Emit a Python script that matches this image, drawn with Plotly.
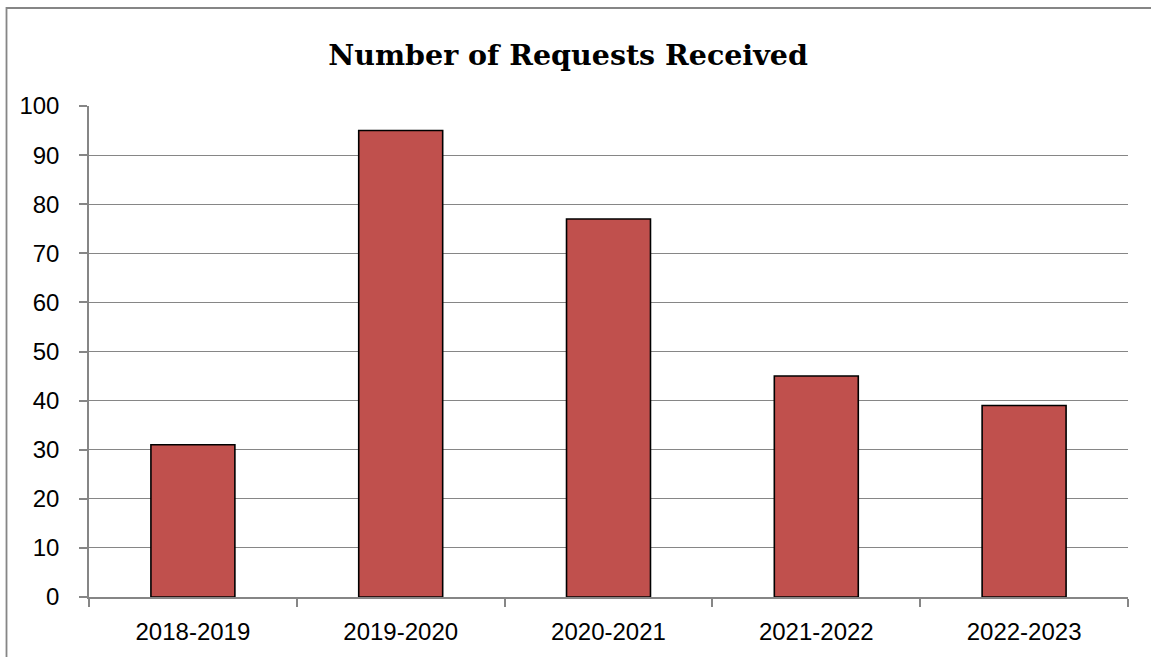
import plotly.graph_objects as go

categories = ["2018-2019", "2019-2020", "2020-2021", "2021-2022", "2022-2023"]
requests = [31, 95, 77, 45, 39]
y_ticks = list(range(0, 101, 10))

W, H = 1151, 657
L, R, T, B = 89, 23, 106, 60

fig = go.Figure(go.Bar(
    x=categories, y=requests,
    marker=dict(color="#C0504D", line=dict(color="#000000", width=1.6)),
))

fig.update_layout(
    width=W, height=H,
    margin=dict(l=L, r=R, t=T, b=B),
    paper_bgcolor="white", plot_bgcolor="white",
    bargap=0.596,
    showlegend=False,
    title=dict(text="<b>Number of Requests Received</b>",
               font=dict(family="DejaVu Serif", size=28.5, color="black"),
               x=568 / W, xref="container", xanchor="center",
               y=1 - 55 / H, yref="container", yanchor="middle"),
    font=dict(family="Liberation Sans", size=24, color="black"),
)

fig.update_xaxes(
    showgrid=False, tickson="boundaries", ticks="outside", ticklen=8,
    tickcolor="#868686", tickwidth=1.5,
    showline=True, linecolor="#868686", linewidth=1.5,
    ticklabelstandoff=12,
)
fig.update_yaxes(
    range=[0, 100], tickvals=y_ticks,
    showgrid=True, gridcolor="#868686", gridwidth=1.3,
    ticks="outside", ticklen=8, tickcolor="#868686", tickwidth=1.5,
    showline=True, linecolor="#868686", linewidth=1.5,
    zeroline=False, ticklabelstandoff=15,
)

# outer chart border
pw = W - L - R
ph = H - T - B
x0 = (6.5 - L) / pw
x1 = (W + 10 - L) / pw
y1 = (H - B - 8) / ph
y0 = (H - B - (H + 10)) / ph
fig.add_shape(type="rect", xref="paper", yref="paper",
              x0=x0, x1=x1, y0=y0, y1=y1,
              line=dict(color="#868686", width=1.8), layer="below")

fig.write_html("out.html")
